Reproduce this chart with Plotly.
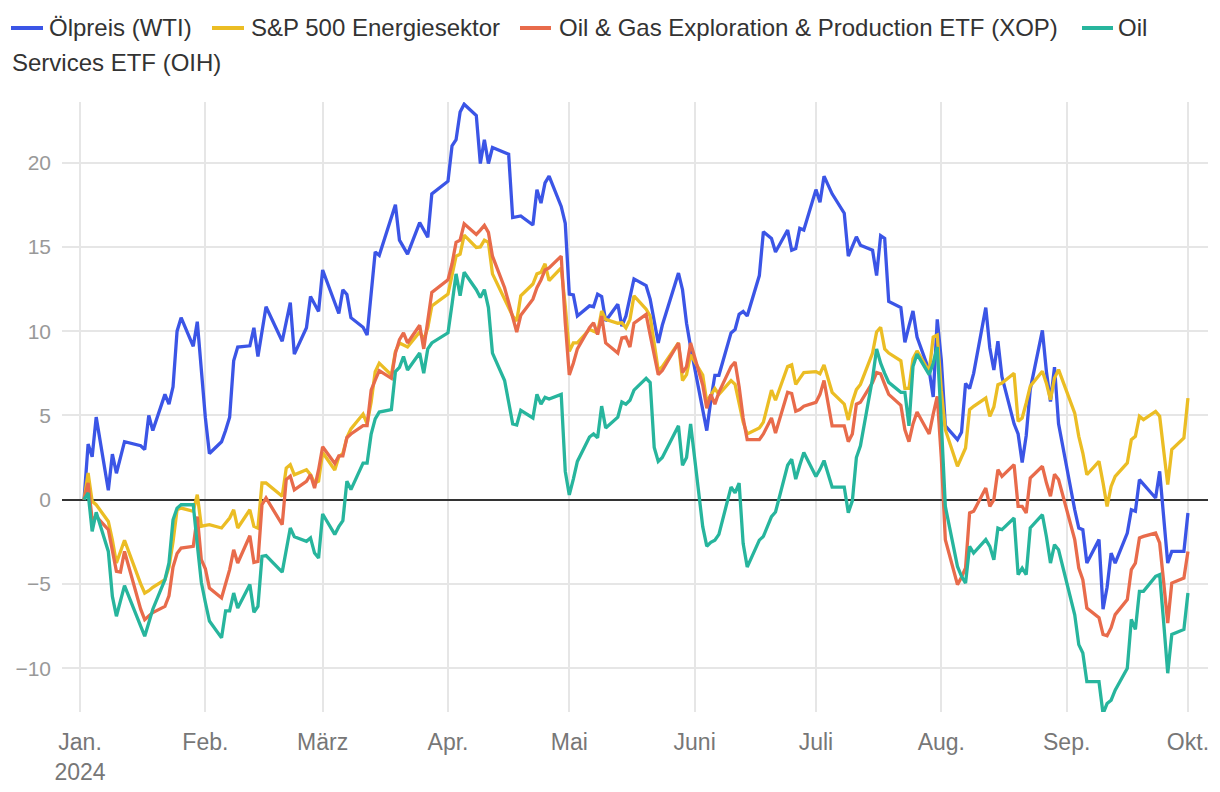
import plotly.graph_objects as go

DATES = """
2024-01-02 2024-01-03 2024-01-04 2024-01-05 2024-01-08 2024-01-09 2024-01-10 2024-01-11 2024-01-12 2024-01-16
2024-01-17 2024-01-18 2024-01-19 2024-01-22 2024-01-23 2024-01-24 2024-01-25 2024-01-26 2024-01-29 2024-01-30 2024-01-31
2024-02-01 2024-02-02 2024-02-05 2024-02-06 2024-02-07 2024-02-08 2024-02-09 2024-02-12 2024-02-13 2024-02-14
2024-02-15 2024-02-16 2024-02-20 2024-02-21 2024-02-22 2024-02-23 2024-02-26 2024-02-27 2024-02-28 2024-02-29
2024-03-01 2024-03-04 2024-03-05 2024-03-06 2024-03-07 2024-03-08 2024-03-11 2024-03-12 2024-03-13 2024-03-14
2024-03-15 2024-03-18 2024-03-19 2024-03-20 2024-03-21 2024-03-22 2024-03-25 2024-03-26 2024-03-27 2024-03-28
2024-04-01 2024-04-02 2024-04-03 2024-04-04 2024-04-05 2024-04-08 2024-04-09 2024-04-10 2024-04-11 2024-04-12 2024-04-15
2024-04-16 2024-04-17 2024-04-18 2024-04-19 2024-04-22 2024-04-23 2024-04-24 2024-04-25 2024-04-26 2024-04-29 2024-04-30
2024-05-01 2024-05-02 2024-05-03 2024-05-06 2024-05-07 2024-05-08 2024-05-09 2024-05-10 2024-05-13 2024-05-14 2024-05-15
2024-05-16 2024-05-17 2024-05-20 2024-05-21 2024-05-22 2024-05-23 2024-05-24 2024-05-28 2024-05-29 2024-05-30 2024-05-31
2024-06-03 2024-06-04 2024-06-05 2024-06-06 2024-06-07 2024-06-10 2024-06-11 2024-06-12 2024-06-13 2024-06-14
2024-06-17 2024-06-18 2024-06-20 2024-06-21 2024-06-24 2024-06-25 2024-06-26 2024-06-27 2024-06-28
2024-07-01 2024-07-02 2024-07-03 2024-07-05 2024-07-08 2024-07-09 2024-07-10 2024-07-11 2024-07-12 2024-07-15 2024-07-16
2024-07-17 2024-07-18 2024-07-19 2024-07-22 2024-07-23 2024-07-24 2024-07-25 2024-07-26 2024-07-29 2024-07-30 2024-07-31
2024-08-01 2024-08-02 2024-08-05 2024-08-06 2024-08-07 2024-08-08 2024-08-09 2024-08-12 2024-08-13 2024-08-14 2024-08-15
2024-08-16 2024-08-19 2024-08-20 2024-08-21 2024-08-22 2024-08-23 2024-08-26 2024-08-27 2024-08-28 2024-08-29 2024-08-30
2024-09-03 2024-09-04 2024-09-05 2024-09-06 2024-09-09 2024-09-10 2024-09-11 2024-09-12 2024-09-13 2024-09-16
2024-09-17 2024-09-18 2024-09-19 2024-09-20 2024-09-23 2024-09-24 2024-09-25 2024-09-26 2024-09-27 2024-09-30 2024-10-01
""".split()

WTI = [
    0, 3.3, 2.55, 4.9, 0.56, 2.7, 1.57, 2.5, 3.44, 3.2, 2.97, 5.0, 4.1, 6.25, 5.67, 6.7, 10.0, 10.8, 9.1, 10.56, 7.6,
    4.85, 2.74, 3.44, 4.1, 4.9, 8.24, 9.06, 9.13, 10.2, 8.5, 10.0, 11.45, 9.4, 10.5, 11.7, 8.64, 10.2, 12.06, 11.6, 11.17,
    13.63, 11.7, 11.05, 12.46, 12.18, 10.8, 10.23, 9.77, 12.2, 14.7, 14.5, 16.8, 17.5, 15.4, 15.0, 14.57, 16.44, 16.0, 15.57, 18.15,
    18.9, 21.0, 21.36, 23.0, 23.47, 22.8, 19.95, 21.36, 19.95, 20.9, 20.6, 20.5, 16.74, 16.8, 16.84, 16.3, 18.4, 17.6, 18.8, 19.2, 17.4, 16.4,
    12.2, 12.15, 10.9, 11.5, 11.45, 12.2, 12.06, 10.6, 11.6, 10.3, 10.9, 12.0, 13.1, 12.7, 11.9, 10.6, 9.3, 10.35, 13.45, 12.46, 10.47, 9.06,
    5.4, 4.1, 5.9, 7.38, 7.38, 9.9, 10.1, 11.0, 11.17, 10.9, 13.3, 15.9, 15.5, 14.7, 16.0, 14.8, 14.9, 16.1, 16.0,
    18.4, 17.65, 19.2, 18.15, 17.0, 14.45, 15.0, 15.6, 15.1, 14.8, 13.3, 15.67, 15.5, 11.76, 11.4, 9.34, 10.3, 11.2, 9.65, 7.66, 6.1, 10.7,
    8.3, 4.38, 3.56, 4.0, 6.9, 6.6, 7.5, 11.4, 9.0, 7.7, 9.4, 7.3, 4.5, 3.9, 2.2, 3.8, 6.55, 10.05, 7.6, 5.83, 7.86, 4.5,
    -0.6, -1.68, -1.78, -3.76, -2.37, -6.5, -5.2, -3.17, -3.76, -1.98, -0.6, -0.69, 1.19, 0.9, 0.1, 1.68, -1.2, -3.76, -3.07, -3.07, -0.79,
]

SP500_ENERGY = [
    0, 1.58, -0.1, -0.3, -1.29, -2.4, -3.76, -3.1, -2.41, -5.0, -5.54, -5.4, -5.2, -4.75, -4.0, -2.5, -0.6, -0.5, -0.69, 0.3, -1.58,
    -1.52, -1.48, -1.68, -1.4, -1.09, -0.6, -1.68, -0.6, -1.58, -1.68, 0.99, 0.99, 0.2, 1.88, 2.08, 1.48, 1.78, 1.48, 0.99, 1.1,
    2.8, 1.76, 2.55, 2.74, 3.68, 4.2, 5.08, 4.5, 5.8, 7.6, 8.1, 7.4, 8.8, 9.3, 9.2, 9.06, 9.95, 9.5, 10.2, 11.5,
    12.2, 13.3, 14.45, 14.57, 15.7, 14.97, 15.0, 15.4, 15.27, 13.4, 11.9, 11.4, 10.9, 10.6, 12.1, 12.8, 13.4, 13.5, 14.0, 13.0, 13.75, 11.5,
    8.8, 9.3, 9.3, 10.1, 10.0, 9.9, 11.2, 10.7, 10.47, 10.5, 10.2, 10.7, 12.1, 11.3, 10.9, 9.3, 7.66, 7.9, 9.3, 7.07, 7.42, 8.6,
    7.4, 5.8, 6.25, 6.6, 6.25, 7.07, 6.84, 5.8, 4.6, 3.9, 4.26, 4.6, 6.5, 5.9, 7.9, 8.0, 6.84, 7.2, 7.54,
    7.6, 7.47, 8.0, 6.37, 5.67, 4.73, 5.8, 6.53, 6.84, 8.7, 9.95, 10.23, 8.95, 8.7, 8.24, 6.6, 6.6, 8.36, 8.83, 7.6, 9.65, 9.77,
    6.5, 4.15, 1.98, 2.57, 3.07, 5.34, 5.54, 6.03, 4.94, 5.5, 6.82, 6.92, 7.5, 4.65, 4.85, 5.74, 6.73, 7.62, 6.9, 5.93, 7.22, 7.72,
    5.14, 3.76, 2.77, 1.48, 2.27, 1.0, -0.4, 0.79, 1.38, 2.18, 3.56, 3.76, 4.95, 4.75, 5.24, 4.95, 2.77, 0.89, 2.97, 3.66, 6.03,
]

XOP = [
    0, 0.99, -1.19, -0.99, -1.78, -3.0, -4.25, -4.3, -3.07, -6.5, -7.12, -6.9, -6.7, -6.33, -5.7, -4.0, -3.2, -2.87, -2.77, -1.0, -3.56,
    -4.1, -5.24, -5.83, -4.94, -4.15, -2.97, -3.76, -2.14, -3.72, -3.66, -0.3, 0.1, -1.48, 1.2, 1.4, 0.59, 1.09, 1.48, 0.69, 1.78,
    3.14, 2.15, 2.6, 2.6, 3.68, 3.9, 4.4, 4.4, 6.5, 7.1, 7.66, 7.2, 8.7, 9.5, 9.9, 9.3, 10.35, 8.95, 10.5, 12.3,
    13.05, 14.0, 15.27, 15.4, 16.37, 15.74, 16.0, 16.28, 15.86, 14.45, 12.58, 11.76, 10.94, 9.95, 10.94, 11.9, 12.58, 13.04, 13.63, 13.75, 14.45, 10.5,
    7.4, 8.1, 8.95, 10.2, 10.5, 9.8, 10.9, 9.3, 8.7, 9.6, 9.65, 9.06, 10.47, 11.0, 9.77, 8.6, 7.42, 7.66, 9.3, 7.54, 7.9, 9.3,
    6.8, 5.43, 6.25, 5.67, 6.37, 7.9, 8.17, 6.7, 4.85, 3.56, 3.56, 3.9, 4.85, 3.96, 6.37, 6.3, 5.25, 5.35, 5.55,
    5.78, 6.25, 7.07, 4.38, 4.38, 3.44, 3.9, 5.67, 5.78, 6.96, 7.54, 7.47, 6.84, 6.25, 5.6, 4.15, 3.44, 4.5, 5.2, 3.9, 5.08, 6.13,
    2.5, -2.37, -5.04, -4.6, -4.05, -0.79, -0.69, 0.69, -0.4, 0.0, 1.78, 1.38, 2.08, -0.4, -0.4, -0.79, 1.29, 1.98, 1.0, 0.2, 1.5, 1.2,
    -2.37, -4.06, -4.75, -6.43, -7.0, -8.0, -8.07, -7.6, -6.82, -5.93, -4.15, -3.76, -2.27, -2.18, -1.98, -2.57, -4.9, -7.32, -4.95, -4.65, -3.07,
]

OIH = [
    0, 0.4, -1.88, -0.75, -3.07, -5.74, -6.92, -6.0, -5.1, -7.5, -8.1, -7.3, -6.5, -4.75, -3.75, -1.19, -0.5, -0.3, -0.3, -2.67, -4.9,
    -6.1, -7.2, -8.2, -6.6, -6.6, -5.54, -6.43, -5.04, -6.68, -6.33, -3.36, -3.32, -4.3, -2.97, -1.68, -2.2, -2.47, -2.27, -3.17, -3.46,
    -0.85, -2.06, -1.6, -1.25, 1.1, 0.6, 2.17, 2.17, 3.9, 4.8, 5.2, 5.34, 7.6, 7.85, 8.5, 7.7, 8.7, 7.5, 8.95, 9.3,
    9.9, 11.6, 13.4, 12.1, 13.5, 12.46, 12.0, 12.46, 11.4, 8.7, 7.07, 5.8, 4.5, 4.43, 5.3, 4.85, 6.25, 5.67, 6.07, 5.97, 6.25, 1.69,
    0.28, 1.22, 2.27, 3.72, 3.9, 3.68, 5.55, 4.26, 4.9, 5.8, 5.67, 5.9, 6.5, 7.2, 6.95, 3.1, 2.27, 2.5, 4.38, 2.04, 2.5, 4.5,
    -1.6, -2.76, -2.53, -2.4, -2.06, 0.75, 0.4, 0.98, -2.6, -4.0, -2.4, -2.18, -1.0, -0.73, 2.04, 2.4, 1.22, 2.04, 2.8,
    1.38, 1.8, 2.32, 0.75, 0.75, -0.77, -0.07, 2.5, 3.2, 7.2, 8.95, 8.1, 7.5, 6.96, 6.37, 6.37, 4.38, 7.9, 8.64, 7.42, 8.1, 9.06,
    4.6, -0.4, -3.96, -4.55, -4.95, -2.77, -3.17, -2.37, -2.77, -3.56, -1.68, -1.78, -1.09, -4.45, -4.06, -4.45, -1.68, -0.89, -2.2, -3.76, -2.67, -2.97,
    -6.83, -8.6, -9.1, -10.8, -10.8, -12.7, -12.1, -11.9, -11.3, -10.0, -7.1, -7.7, -5.44, -5.44, -4.55, -4.45, -7.3, -10.3, -8.0, -7.7, -5.54,
]

SERIES_NAMES = ["Ölpreis (WTI)", "S&P 500 Energiesektor",
                "Oil & Gas Exploration & Production ETF (XOP)", "Oil Services ETF (OIH)"]
COLORS = ["#3b55e6", "#ebbd24", "#e86b4b", "#27b59d"]

MONTH_TICKS = ["2024-01-01", "2024-02-01", "2024-03-01", "2024-04-01", "2024-05-01",
               "2024-06-01", "2024-07-01", "2024-08-01", "2024-09-01", "2024-10-01"]
MONTH_LABELS = ["Jan.<br>2024", "Feb.", "März", "Apr.", "Mai", "Juni", "Juli", "Aug.", "Sep.", "Okt."]
Y_TICKS = [-10, -5, 0, 5, 10, 15, 20]

W, H = 1220, 792
ML, MR, MT, MB = 62, 12, 102, 80
PW, PH = W - ML - MR, H - MT - MB

fig = go.Figure()
for name, vals, col in zip(SERIES_NAMES, [WTI, SP500_ENERGY, XOP, OIH], COLORS):
    fig.add_trace(go.Scatter(x=DATES, y=vals, mode="lines", name=name,
                             line=dict(color=col, width=3.3), showlegend=False))

FONT = "Liberation Sans, Arial, Helvetica, sans-serif"

def px_x(px):
    return (px - ML) / PW

def px_y(py):
    return (H - MB - py) / PH

# custom wrapped legend (as in the reference)
legend_items = [
    (11, 43, 47, 28, SERIES_NAMES[0], COLORS[0]),
    (212, 244, 249, 28, SERIES_NAMES[1], COLORS[1]),
    (520, 551, 557, 28, SERIES_NAMES[2], COLORS[2]),
    (1082, 1113, 1116, 28, "Oil", COLORS[3]),
]
shapes = []
annotations = []
for x0, x1, tx, ty, txt, col in legend_items:
    shapes.append(dict(type="line", xref="paper", yref="paper",
                       x0=px_x(x0), x1=px_x(x1), y0=px_y(ty), y1=px_y(ty),
                       line=dict(color=col, width=4)))
    annotations.append(dict(text=txt, xref="paper", yref="paper", x=px_x(tx), y=px_y(ty),
                            xanchor="left", yanchor="middle", showarrow=False,
                            font=dict(family=FONT, size=24, color="#333333")))
annotations.append(dict(text="Services ETF (OIH)", xref="paper", yref="paper", x=px_x(10), y=px_y(63),
                        xanchor="left", yanchor="middle", showarrow=False,
                        font=dict(family=FONT, size=24, color="#333333")))

fig.update_layout(
    width=W, height=H,
    margin=dict(l=ML, r=MR, t=MT, b=MB),
    plot_bgcolor="white", paper_bgcolor="white",
    font=dict(family=FONT, color="#777777"),
    shapes=shapes, annotations=annotations,
    showlegend=False,
)
fig.update_xaxes(
    type="date",
    range=["2023-12-27 13:00", "2024-10-05 23:00"],
    tickvals=MONTH_TICKS, ticktext=MONTH_LABELS,
    showgrid=True, gridcolor="#e6e6e6", gridwidth=1.5,
    ticks="", ticklabelstandoff=14,
    tickfont=dict(size=23, color="#777777"),
    showline=False, zeroline=False, automargin=False,
)
fig.update_yaxes(
    range=[-12.6, 23.6],
    tickvals=Y_TICKS,
    showgrid=True, gridcolor="#e6e6e6", gridwidth=1.5,
    zeroline=True, zerolinecolor="#333333", zerolinewidth=1.5,
    ticks="", ticklabelstandoff=10,
    tickfont=dict(size=21, color="#999999"),
    showline=False, automargin=False,
)

fig.write_html("out.html", config={"displayModeBar": False},
               post_script="document.body.style.margin='0';document.body.style.overflow='hidden';")
